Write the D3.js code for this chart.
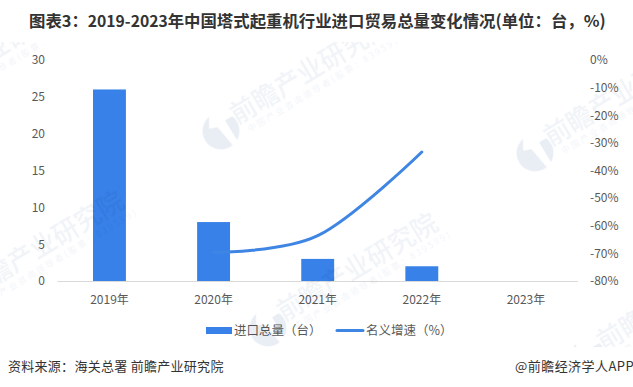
<!DOCTYPE html>
<html><head><meta charset="utf-8">
<script src="https://cdn.jsdelivr.net/npm/d3@7"></script>
<style>html,body{margin:0;padding:0;background:#fff}svg{display:block}
text{font-family:"Noto Sans CJK SC","Noto Sans",sans-serif}</style></head>
<body><div id="c"></div>
<script>
const categories=["2019年","2020年","2021年","2022年","2023年"];
const importTotal=[26,8,3,2,null];
const growthRate=[null,-69.6,-63.6,-33.3,null];
const leftTicks=[0,5,10,15,20,25,30];
const rightTicks=[0,-10,-20,-30,-40,-50,-60,-70,-80];
const titleParts=["图表3\uFF1A","2019-2023","年中国塔式起重机行业进口贸易总量变化情况(单位\uFF1A台\uFF0C%)"];
const legendBar="进口总量\uFF08台\uFF09";
const legendLine="名义增速\uFF08%\uFF09";
const sourceText="资料来源\uFF1A海关总署 前瞻产业研究院";
const creditText="@前瞻经济学人APP";
const wmName="前瞻产业研究院";
const wmSub="中国产业咨询领导者(股票\uFF1A839599)";
const wmLogos=[[-93,109],[221,131],[535,153],[-46,306],[268,328],[588,358]];

const W=633,H=387,barColor="#3781e8",lineColor="#3f85e4",txt="#595959",wm="#f0f3f7";
const svg=d3.select("#c").append("svg").attr("width",W).attr("height",H);
const x=d3.scaleBand().domain(categories).range([57.4,578]).paddingInner(.684).paddingOuter(.342);
const yL=d3.scaleLinear().domain([0,30]).range([281,60]);
const yR=d3.scaleLinear().domain([-80,0]).range([281,60]);

// bars
svg.append("g").selectAll("rect").data(categories.map((c,i)=>({c,v:importTotal[i]})).filter(d=>d.v!=null))
 .join("rect").attr("x",d=>x(d.c)).attr("y",d=>yL(d.v)).attr("width",x.bandwidth()).attr("height",d=>yL(0)-yL(d.v)).attr("fill",barColor);

// axes
const style=g=>{g.select(".domain").remove();g.selectAll(".tick line").remove();
  g.selectAll("text").attr("fill",txt).attr("font-size",12).attr("font-family",'"Noto Sans CJK SC"');};
svg.append("g").attr("transform","translate(45,0)").call(d3.axisLeft(yL).tickValues(leftTicks).tickSize(0).tickPadding(0)).call(style);
svg.append("g").attr("transform","translate(590,0)").call(d3.axisRight(yR).tickValues(rightTicks).tickFormat(d=>d+"%").tickSize(0).tickPadding(0)).call(style);
svg.append("g").attr("transform","translate(0,281)").call(d3.axisBottom(x).tickSize(0).tickPadding(14)).call(style);
svg.append("line").attr("x1",57.4).attr("x2",578).attr("y1",281.5).attr("y2",281.5).attr("stroke","#d9d9d9");

// line
const line=d3.line().defined(d=>d.v!=null).x(d=>x(d.c)+x.bandwidth()/2).y(d=>yR(d.v)).curve(d3.curveCatmullRom.alpha(0));
svg.append("path").datum(categories.map((c,i)=>({c,v:growthRate[i]})).filter(d=>d.v!=null)).attr("d",line)
 .attr("fill","none").attr("stroke",lineColor).attr("stroke-width",3).attr("stroke-linecap","round");

// legend
svg.append("rect").attr("x",206).attr("y",327).attr("width",26).attr("height",7).attr("fill",barColor);
svg.append("text").attr("x",234).attr("y",334.5).attr("font-size",12.5).attr("fill",txt).text(legendBar);
svg.append("line").attr("x1",337).attr("x2",363).attr("y1",330.5).attr("y2",330.5).attr("stroke",lineColor).attr("stroke-width",3).attr("stroke-linecap","round");
svg.append("text").attr("x",366).attr("y",334.5).attr("font-size",12.5).attr("fill",txt).text(legendLine);

// title and notes
const title=svg.append("text").attr("x",29).attr("y",27).attr("font-size",16.4).attr("font-weight",700).attr("fill","#333")
 .attr("font-family",'"Liberation Sans","Noto Sans CJK SC"');
titleParts.forEach((t,i)=>title.append("tspan").attr("font-size",i===1?15.7:16.4).text(t));
svg.append("text").attr("x",8).attr("y",371).attr("font-size",13).attr("fill","#333").attr("letter-spacing",.28).text(sourceText);
svg.append("text").attr("x",515).attr("y",371).attr("font-size",13).attr("fill","#333").attr("letter-spacing",.45).text(creditText);

// watermark sits over the marks, clipped to the pasted plot image
svg.append("clipPath").attr("id","wc").append("rect").attr("x",0).attr("y",42).attr("width",W).attr("height",305);
const wg=svg.append("g").attr("clip-path","url(#wc)").style("mix-blend-mode","multiply");
wmLogos.forEach(([lx,ly])=>{
  const g=wg.append("g").attr("transform",`translate(${lx},${ly}) rotate(-31)`);
  g.append("circle").attr("r",18.5).attr("fill","#e9edf4");
  g.append("path").attr("d","M-2,-20 L20,-20 L20,-7 L9,-7 L9,20 L3,20 L-1,-5 L-9,-8 Z").attr("fill","#fff");
  g.append("text").attr("x",17).attr("y",3).attr("font-size",26).attr("font-weight",500).attr("fill",wm).text(wmName);
  g.append("text").attr("x",24).attr("y",16).attr("font-size",8.5).attr("letter-spacing",2.3).attr("fill",wm).text(wmSub);
});
</script></body></html>
